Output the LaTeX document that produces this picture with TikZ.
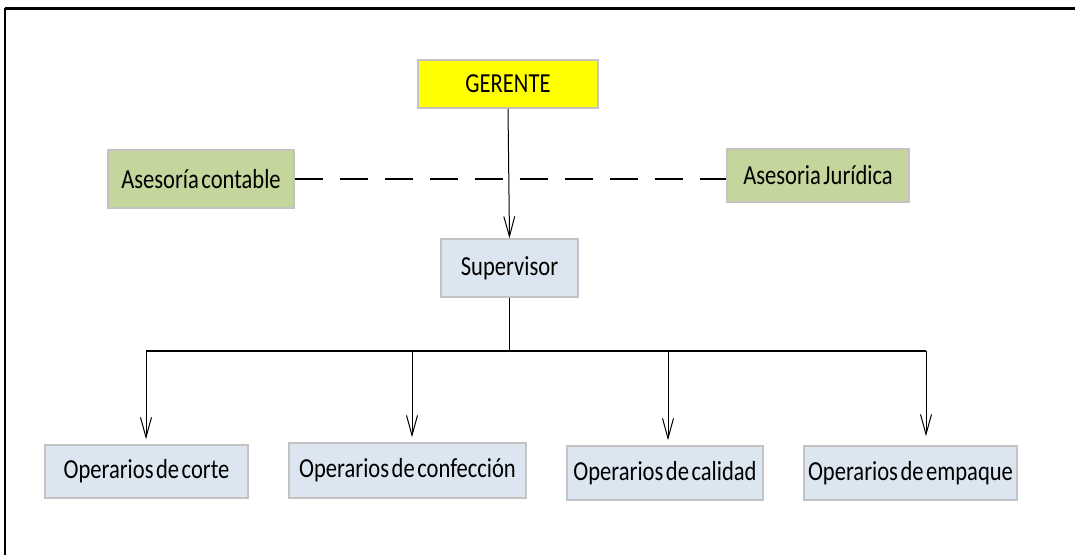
\documentclass[tikz,border=0pt]{standalone}
\usepackage{fontspec}
\setmainfont[FakeStretch=0.82,WordSpace=0.5]{Carlito}
\usepackage{tikz}
\usetikzlibrary{arrows.meta,positioning}
\definecolor{bossyellow}{RGB}{255,255,0}
\definecolor{advgreen}{RGB}{196,214,155}
\definecolor{opblue}{RGB}{220,230,241}
\definecolor{boxgray}{RGB}{195,195,195}

\begin{document}
\begin{tikzpicture}[x=1pt,y=-1pt,
  box/.style={draw=boxgray,line width=1.5pt,align=center,inner sep=2pt,font=\fontsize{27.5}{32}\selectfont},
  boss/.style={box,fill=bossyellow},
  adv/.style={box,fill=advgreen},
  op/.style={box,fill=opblue},
  arr/.style={-{Straight Barb[length=20pt,width=11pt]},line width=1pt}]
\useasboundingbox (0,0) rectangle (1075,555);
% marco
\draw[line width=3pt] (5,8) -- (1075,8);
\draw[line width=2pt] (5,8) -- (5,555);
\node[boss,minimum width=180pt,minimum height=48pt] (gerente) at (508,84) {GERENTE};
\node[adv,minimum width=186pt,minimum height=58pt] (contable) at (201,179) {Asesoría contable};
\node[adv,minimum width=182pt,minimum height=53pt] (juridica) at (818,175.5) {Asesoria Jurídica};
\node[op,minimum width=137pt,minimum height=58pt] (super) at (509.5,268) {Supervisor};
\node[op,minimum width=203pt,minimum height=53pt] (corte) at (146.5,471.5) {Operarios de corte};
\node[op,minimum width=237pt,minimum height=55pt] (confec) at (407.5,470.5) {Operarios de confección};
\node[op,minimum width=196pt,minimum height=54pt] (calidad) at (665,473) {Operarios de calidad};
\node[op,minimum width=213pt,minimum height=54pt] (empaque) at (910.5,473) {Operarios de empaque};
\coordinate (b1) at (146,351);
\coordinate (b2) at (412,351);
\coordinate (b3) at (668,351);
\coordinate (b4) at (926,351);
\draw[line width=1.5pt,dash pattern=on 28pt off 17pt] (contable.east) -- (juridica.west |- contable.east);
\draw[arr] (gerente.south) -- (super.north);
\draw[line width=1pt] (super.south) -- (super.south |- b1);
\draw[line width=2.5pt] (b1) -- (b4);
\draw[arr] (b1) -- ([yshift=5pt]b1 |- corte.north);
\draw[arr] (b2) -- ([yshift=5pt]b2 |- confec.north);
\draw[arr] (b3) -- ([yshift=5pt]b3 |- calidad.north);
\draw[arr] (b4) -- ([yshift=9pt]b4 |- empaque.north);
\end{tikzpicture}
\end{document}
